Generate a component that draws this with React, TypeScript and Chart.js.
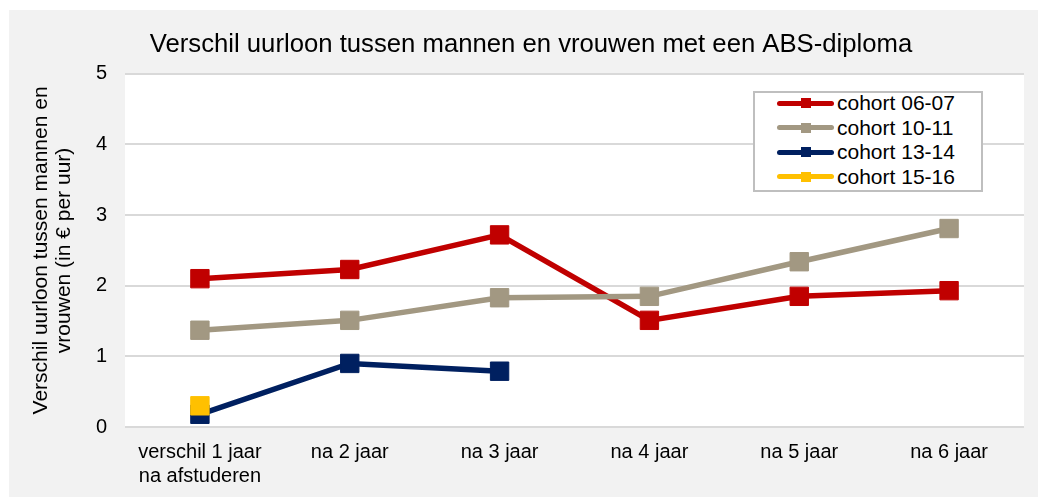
import React, { useEffect, useRef } from "react";
import { Chart, registerables } from "chart.js";

Chart.register(...registerables);

const categories: (string | string[])[] = [
  ["verschil 1 jaar", "na afstuderen"],
  "na 2 jaar",
  "na 3 jaar",
  "na 4 jaar",
  "na 5 jaar",
  "na 6 jaar",
];

const seriesNames = ["cohort 06-07", "cohort 10-11", "cohort 13-14", "cohort 15-16"];
const seriesColors = ["#C00000", "#A29882", "#002060", "#FFC000"];

const cohort0607 = [2.1, 2.23, 2.72, 1.51, 1.85, 1.93];
const cohort1011 = [1.37, 1.51, 1.83, 1.85, 2.34, 2.81];
const cohort1314 = [0.18, 0.9, 0.79, null, null, null];
const cohort1516 = [0.3, null, null, null, null, null];

const yTicks = [0, 1, 2, 3, 4, 5];

const chartTitle = "Verschil uurloon tussen mannen en vrouwen met een ABS-diploma";
const yTitle = ["Verschil uurloon tussen mannen en", "vrouwen (in € per uur)"];

const FONT = "'Liberation Sans', Arial, Helvetica, sans-serif";

const plotBg = {
  id: "plotBg",
  beforeDraw(chart: any) {
    const { ctx, chartArea } = chart;
    ctx.save();
    ctx.fillStyle = "#ffffff";
    ctx.fillRect(chartArea.left, chartArea.top, chartArea.right - chartArea.left, chartArea.bottom - chartArea.top);
    ctx.restore();
  },
};

export default function App() {
  const ref = useRef<HTMLCanvasElement | null>(null);

  useEffect(() => {
    if (!ref.current) return;
    const allData = [cohort0607, cohort1011, cohort1314, cohort1516];
    const chart = new Chart(ref.current, {
      type: "line",
      data: {
        labels: categories as any,
        datasets: allData.map((d, i) => ({
          label: seriesNames[i],
          data: d as any,
          borderColor: seriesColors[i],
          backgroundColor: seriesColors[i],
          pointBackgroundColor: seriesColors[i],
          pointBorderColor: seriesColors[i],
          pointStyle: "rect",
          pointRadius: 13,
          pointBorderWidth: 1,
          borderWidth: 5.5,
          tension: 0,
          spanGaps: false,
          order: 3 - i,
        })),
      },
      options: {
        animation: false,
        responsive: false,
        maintainAspectRatio: false,
        layout: { autoPadding: false, padding: { left: 29, right: 0, top: 0, bottom: 9 } },
        font: { family: FONT },
        plugins: {
          legend: { display: false },
          tooltip: { enabled: false },
          title: {
            display: true,
            text: chartTitle,
            color: "#000",
            font: { family: FONT, size: 25.7, weight: "normal", lineHeight: 1.2 },
            padding: { top: 19.5, bottom: 13.5 },
          },
        },
        scales: {
          x: {
            type: "category",
            offset: true,
            grid: { display: false, drawTicks: false },
            border: { display: false },
            ticks: {
              color: "#000",
              font: { family: FONT, size: 20, lineHeight: 1.2 },
              padding: 13,
              maxRotation: 0,
              autoSkip: false,
            },
            afterFit: (axis: any) => {
              axis.height = 61;
              axis.paddingLeft = 0;
              axis.paddingRight = 0;
            },
          },
          y: {
            min: 0,
            max: 5,
            afterBuildTicks: (axis: any) => {
              axis.ticks = yTicks.map((v) => ({ value: v }));
            },
            grid: { color: "#D9D9D9", lineWidth: 2, drawTicks: false },
            border: { display: false },
            ticks: {
              color: "#000",
              font: { family: FONT, size: 20, lineHeight: 1.2 },
              padding: 18,
            },
            title: {
              display: true,
              text: yTitle,
              color: "#000",
              font: { family: FONT, size: 21, lineHeight: 1.1 },
              padding: { top: -8.5, bottom: 0 },
            },
            afterFit: (axis: any) => {
              axis.width = 87;
            },
          },
        },
      },
      plugins: [plotBg],
    } as any);
    return () => chart.destroy();
  }, []);

  return (
    <div
      style={{
        position: "fixed",
        left: 9,
        top: 10,
        width: 1029,
        height: 487,
        overflow: "hidden",
        background: "#F2F2F2",
      }}
    >
      <canvas ref={ref} width={1015} height={487} style={{ width: 1015, height: 487, display: "block" }} />
      <div
        style={{
          position: "absolute",
          left: 744,
          top: 81,
          width: 230,
          height: 101,
          boxSizing: "border-box",
          border: "2px solid #BFBFBF",
          background: "#fff",
          fontFamily: FONT,
          fontSize: 21,
          color: "#000",
        }}
      >
        <div style={{ marginTop: -2 }}>
          {seriesNames.map((name, i) => (
            <div key={name} style={{ height: 24.5, display: "flex", alignItems: "center", paddingLeft: 22 }}>
              <span
                style={{
                  position: "relative",
                  width: 57,
                  height: 5,
                  background: seriesColors[i],
                  borderRadius: 2.5,
                  display: "inline-block",
                  flex: "none",
                }}
              >
                <span
                  style={{
                    position: "absolute",
                    left: 23.5,
                    top: -2.5,
                    width: 10,
                    height: 10,
                    background: seriesColors[i],
                  }}
                />
              </span>
              <span style={{ marginLeft: 3, lineHeight: "24px", whiteSpace: "nowrap" }}>{name}</span>
            </div>
          ))}
        </div>
      </div>
    </div>
  );
}
